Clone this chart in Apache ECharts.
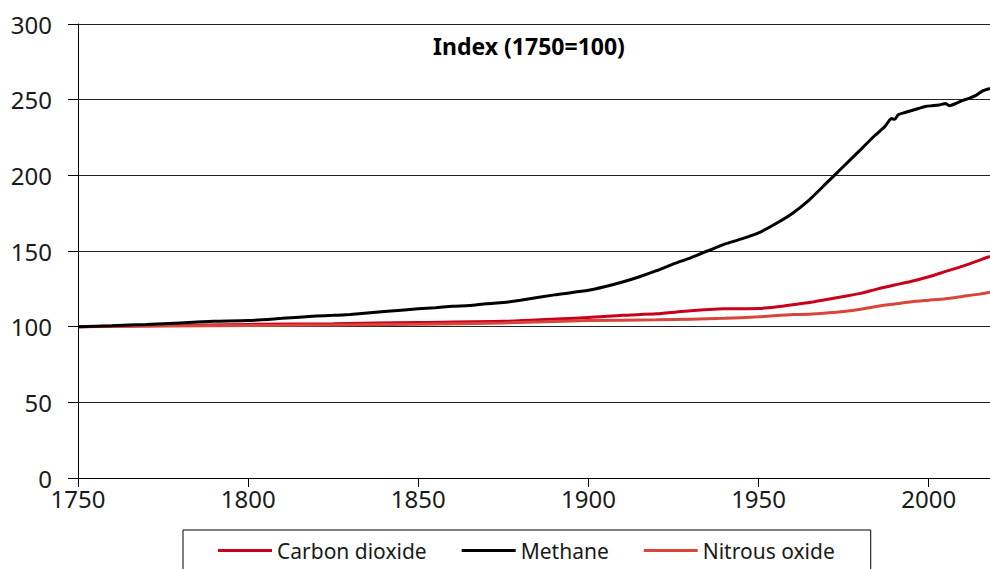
<!DOCTYPE html>
<html>
<head>
<meta charset="utf-8">
<script src="https://cdn.jsdelivr.net/npm/echarts@6/dist/echarts.min.js"></script>
<style>
  html, body {margin: 0; padding: 0; background: #fff;}
  #chart {width: 990px; height: 569px;}
</style>
</head>
<body>
<div id="chart"></div>
<script>
// 1750 = 100 的指数
const methane_years = [1750, 1760, 1770, 1780, 1790, 1800, 1810, 1820, 1825, 1830, 1840, 1850, 1855, 1860, 1865, 1870, 1875, 1880, 1890, 1900, 1905, 1910, 1915, 1920, 1925, 1930, 1935, 1940, 1945, 1950, 1955, 1960, 1965, 1970, 1975, 1980, 1984, 1987, 1988, 1989, 1990, 1991, 1993, 1996, 1999, 2001, 2003, 2005, 2006, 2008, 2010, 2012, 2014, 2016, 2018];
const methane_values = [100, 100.6, 101.5, 102.5, 103.5, 104, 105.5, 107, 107.5, 108, 110, 111.8, 112.5, 113.5, 114, 115.2, 116, 117.5, 121, 124, 126.5, 129.5, 133, 137, 141.5, 145.5, 150, 154.5, 158, 162, 168, 175, 184, 195, 206, 217, 226, 232, 235, 237.5, 237, 240, 241.5, 243.5, 245.5, 246, 246.5, 247.5, 246, 247.5, 249.5, 251, 253, 256, 257.5];

const co2_years = [1750, 1775, 1800, 1825, 1850, 1875, 1900, 1910, 1920, 1930, 1940, 1950, 1955, 1960, 1965, 1970, 1975, 1980, 1985, 1990, 1995, 2000, 2005, 2010, 2015, 2018];
const co2_values = [100, 100.8, 101.5, 102, 102.8, 103.5, 106, 107.5, 108.5, 110.5, 111.8, 112, 113, 114.5, 116, 118, 120, 122, 125, 127.5, 130, 133, 136.5, 140, 144, 146.5];

const n2o_years = [1750, 1800, 1850, 1875, 1900, 1920, 1940, 1950, 1960, 1965, 1970, 1975, 1980, 1985, 1990, 1995, 2000, 2005, 2010, 2015, 2018];
const n2o_values = [100, 100.8, 101.6, 102.5, 104, 104.5, 105.5, 106.5, 108, 108.2, 109, 110, 111.5, 113.5, 115, 116.5, 117.5, 118.5, 120, 121.5, 122.7];

const series_names = ['Carbon dioxide', 'Methane', 'Nitrous oxide'];
const series_colors = ['#c8001e', '#000000', '#d9453a'];

function to_pairs(years, values) {
    return years.map((y, i) => [y, values[i]]);
}

const font = '"Noto Sans", "Open Sans", sans-serif';

let chart = echarts.init(document.getElementById('chart'), null, {renderer: 'svg'});
chart.setOption({
    animation: false,
    title: {
        text: 'Index (1750=100)',
        left: 524, top: 29, textAlign: 'center',
        textStyle: {fontFamily: font, fontSize: 23, fontWeight: 'bold', color: '#000'}
    },
    grid: {left: 78, right: 0, top: 24, bottom: 91, containLabel: false},
    xAxis: {
        type: 'value', min: 1750, max: 2018, interval: 50,
        axisLine: {show: true, lineStyle: {color: '#000', width: 1}},
        axisTick: {show: true, length: 9, lineStyle: {color: '#000'}},
        axisLabel: {
            showMaxLabel: false, margin: 8, color: '#1a1a1a',
            fontFamily: font, fontSize: 24,
            formatter: v => String(v)
        },
        splitLine: {show: false}
    },
    yAxis: {
        type: 'value', min: 0, max: 300, interval: 50,
        axisLine: {show: true, lineStyle: {color: '#000', width: 1}},
        axisTick: {show: true, length: 10, lineStyle: {color: '#000'}},
        axisLabel: {margin: 26, color: '#1a1a1a', fontFamily: font, fontSize: 24},
        splitLine: {show: true, lineStyle: {color: '#222', width: 1}}
    },
    legend: {
        data: series_names,
        left: 183, top: 530,
        padding: [10, 36, 20, 35],
        itemGap: 35,
        itemWidth: 54, itemHeight: 3,
        icon: 'rect',
        borderColor: '#000', borderWidth: 1,
        textStyle: {fontFamily: font, fontSize: 21, color: '#1a1a1a'}
    },
    series: [
        {name: series_names[0], data: to_pairs(co2_years, co2_values)},
        {name: series_names[1], data: to_pairs(methane_years, methane_values)},
        {name: series_names[2], data: to_pairs(n2o_years, n2o_values)}
    ].map((s, i) => Object.assign(s, {
        type: 'line', symbol: 'none', smooth: 0.2,
        z: i === 1 ? 3 : 2,
        color: series_colors[i],
        lineStyle: {color: series_colors[i], width: 3}
    }))
});
</script>
</body>
</html>
